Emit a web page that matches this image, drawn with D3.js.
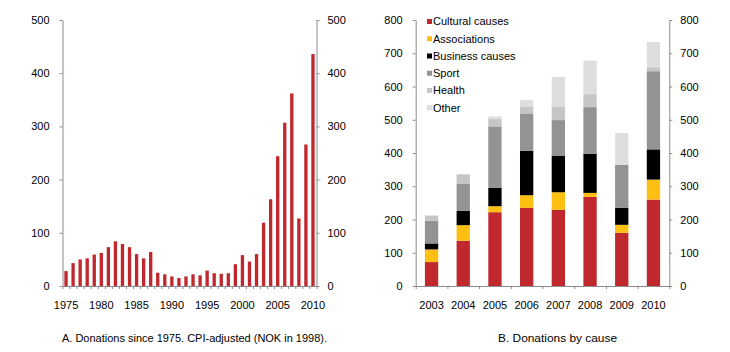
<!DOCTYPE html>
<html>
<head>
<meta charset="utf-8">
<script src="https://cdn.jsdelivr.net/npm/d3@7"></script>
<style>
  body { margin: 0; background: #fff; }
  svg { display: block; font-family: "Liberation Sans", Arial, sans-serif; }
  .axis path, .axis line { stroke: #8c8c8c; }
  .axis text { fill: #000; font-size: 11px; }
</style>
</head>
<body>
<div id="chart"></div>
<script>
// Panel A: donations since 1975, CPI-adjusted
const years = d3.range(1975, 2011);
const donations = [28, 43, 50, 52, 59, 62, 73, 84, 79, 73, 60, 52, 64, 25, 22, 18, 15, 18,
                   22, 20, 29, 24, 23, 24, 41, 58, 46, 60, 119, 163, 244, 307, 362, 127, 266, 436];
const ticksA = [0, 100, 200, 300, 400, 500];

// Panel B: donations by cause
const causeYears = ["2003", "2004", "2005", "2006", "2007", "2008", "2009", "2010"];
const causes = ["Cultural causes", "Associations", "Business causes", "Sport", "Health", "Other"];
const cultural     = [72, 136, 222, 235, 229, 268, 160, 260];
const associations = [38, 47, 18, 38, 53, 12, 24, 60];
const business     = [18, 43, 55, 134, 109, 118, 51, 91];
const sport        = [68, 81, 185, 112, 108, 140, 129, 235];
const health       = [16, 29, 22, 21, 41, 39, 0, 12];
const other        = [0, 0, 8, 20, 89, 101, 96, 76];
const ticksB = [0, 100, 200, 300, 400, 500, 600, 700, 800];
const causeColors = ["#c0282d", "#fcbf12", "#000000", "#939393", "#c6c6c6", "#dedede"];

const width = 730, height = 352;
const svg = d3.select("#chart").append("svg")
    .attr("width", width)
    .attr("height", height);

const plotTop = 20, plotBottom = 286;

// ---------- Panel A ----------
const ax0 = 62.5, ax1 = 316.5;
const xA = d3.scaleBand().domain(years).range([ax0, ax1]).paddingInner(0.53).paddingOuter(0.265);
const xAi = d3.scaleLinear().domain([0, years.length]).range([ax0, ax1]);
const yA = d3.scaleLinear().domain([0, 500]).range([plotBottom, plotTop]);

const gA = svg.append("g");

gA.selectAll("rect.bar")
    .data(years.map((y, i) => ({ year: y, v: donations[i] })))
    .enter().append("rect")
    .attr("class", "bar")
    .attr("x", d => xA(d.year))
    .attr("y", d => yA(d.v))
    .attr("width", xA.bandwidth())
    .attr("height", d => plotBottom - yA(d.v))
    .attr("fill", "#c0282d");

gA.append("g").attr("class", "axis")
    .attr("transform", `translate(${ax0},0)`)
    .call(d3.axisLeft(yA).tickValues(ticksA).tickSize(3).tickSizeOuter(0).tickPadding(10));
gA.append("g").attr("class", "axis")
    .attr("transform", `translate(${ax1},0)`)
    .call(d3.axisRight(yA).tickValues(ticksA).tickSize(3).tickSizeOuter(0).tickPadding(8));
gA.append("g").attr("class", "axis")
    .attr("transform", `translate(0,${plotBottom})`)
    .call(d3.axisBottom(xAi).tickValues(d3.range(years.length + 1)).tickFormat("").tickSize(3).tickSizeOuter(0));
gA.append("g").attr("class", "axis")
    .attr("transform", `translate(0,${plotBottom})`)
    .call(d3.axisBottom(xA).tickValues(years.filter(y => y % 5 === 0)).tickSize(0).tickPadding(15))
    .select(".domain").remove();

svg.append("text")
    .attr("x", 62).attr("y", 342)
    .attr("font-size", "11.5px").attr("fill", "#000")
    .attr("textLength", 265).attr("lengthAdjust", "spacingAndGlyphs")
    .text("A. Donations since 1975. CPI-adjusted (NOK in 1998).");

// ---------- Panel B ----------
const bx0 = 415.7, bx1 = 669.3;
const xB = d3.scaleBand().domain(causeYears).range([bx0, bx1]).paddingInner(0.58).paddingOuter(0.29);
const xBi = d3.scaleLinear().domain([0, causeYears.length]).range([bx0, bx1]);
const yB = d3.scaleLinear().domain([0, 800]).range([plotBottom, plotTop]);

const table = causeYears.map((y, i) => ({
    year: y,
    "Cultural causes": cultural[i],
    "Associations": associations[i],
    "Business causes": business[i],
    "Sport": sport[i],
    "Health": health[i],
    "Other": other[i]
}));
const stacked = d3.stack().keys(causes)(table);
const color = d3.scaleOrdinal().domain(causes).range(causeColors);

const gB = svg.append("g");

gB.selectAll("g.layer")
    .data(stacked)
    .enter().append("g")
    .attr("class", "layer")
    .attr("fill", d => color(d.key))
    .selectAll("rect")
    .data(d => d)
    .enter().append("rect")
    .attr("x", d => xB(d.data.year))
    .attr("y", d => yB(d[1]))
    .attr("width", xB.bandwidth())
    .attr("height", d => yB(d[0]) - yB(d[1]));

gB.append("g").attr("class", "axis")
    .attr("transform", `translate(${bx0},0)`)
    .call(d3.axisLeft(yB).tickValues(ticksB).tickSize(3).tickSizeOuter(0).tickPadding(10));
gB.append("g").attr("class", "axis")
    .attr("transform", `translate(${bx1},0)`)
    .call(d3.axisRight(yB).tickValues(ticksB).tickSize(3).tickSizeOuter(0).tickPadding(8));
gB.append("g").attr("class", "axis")
    .attr("transform", `translate(0,${plotBottom})`)
    .call(d3.axisBottom(xBi).tickValues(d3.range(causeYears.length + 1)).tickFormat("").tickSize(3).tickSizeOuter(0));
gB.append("g").attr("class", "axis")
    .attr("transform", `translate(0,${plotBottom})`)
    .call(d3.axisBottom(xB).tickSize(0).tickPadding(15))
    .select(".domain").remove();

// legend
const legend = gB.selectAll(".legend")
    .data(causes)
    .enter().append("g")
    .attr("class", "legend")
    .attr("transform", (d, i) => `translate(427,${21.5 + i * 17.25})`);

legend.append("rect")
    .attr("x", 0).attr("y", -2.5)
    .attr("width", 5).attr("height", 5)
    .attr("fill", d => color(d));

legend.append("text")
    .attr("x", 6).attr("dy", "0.35em")
    .attr("font-size", "11px").attr("fill", "#000")
    .text(d => d);

svg.append("text")
    .attr("x", 498).attr("y", 342)
    .attr("font-size", "11.5px").attr("fill", "#000")
    .attr("textLength", 119).attr("lengthAdjust", "spacingAndGlyphs")
    .text("B. Donations by cause");
</script>
</body>
</html>
